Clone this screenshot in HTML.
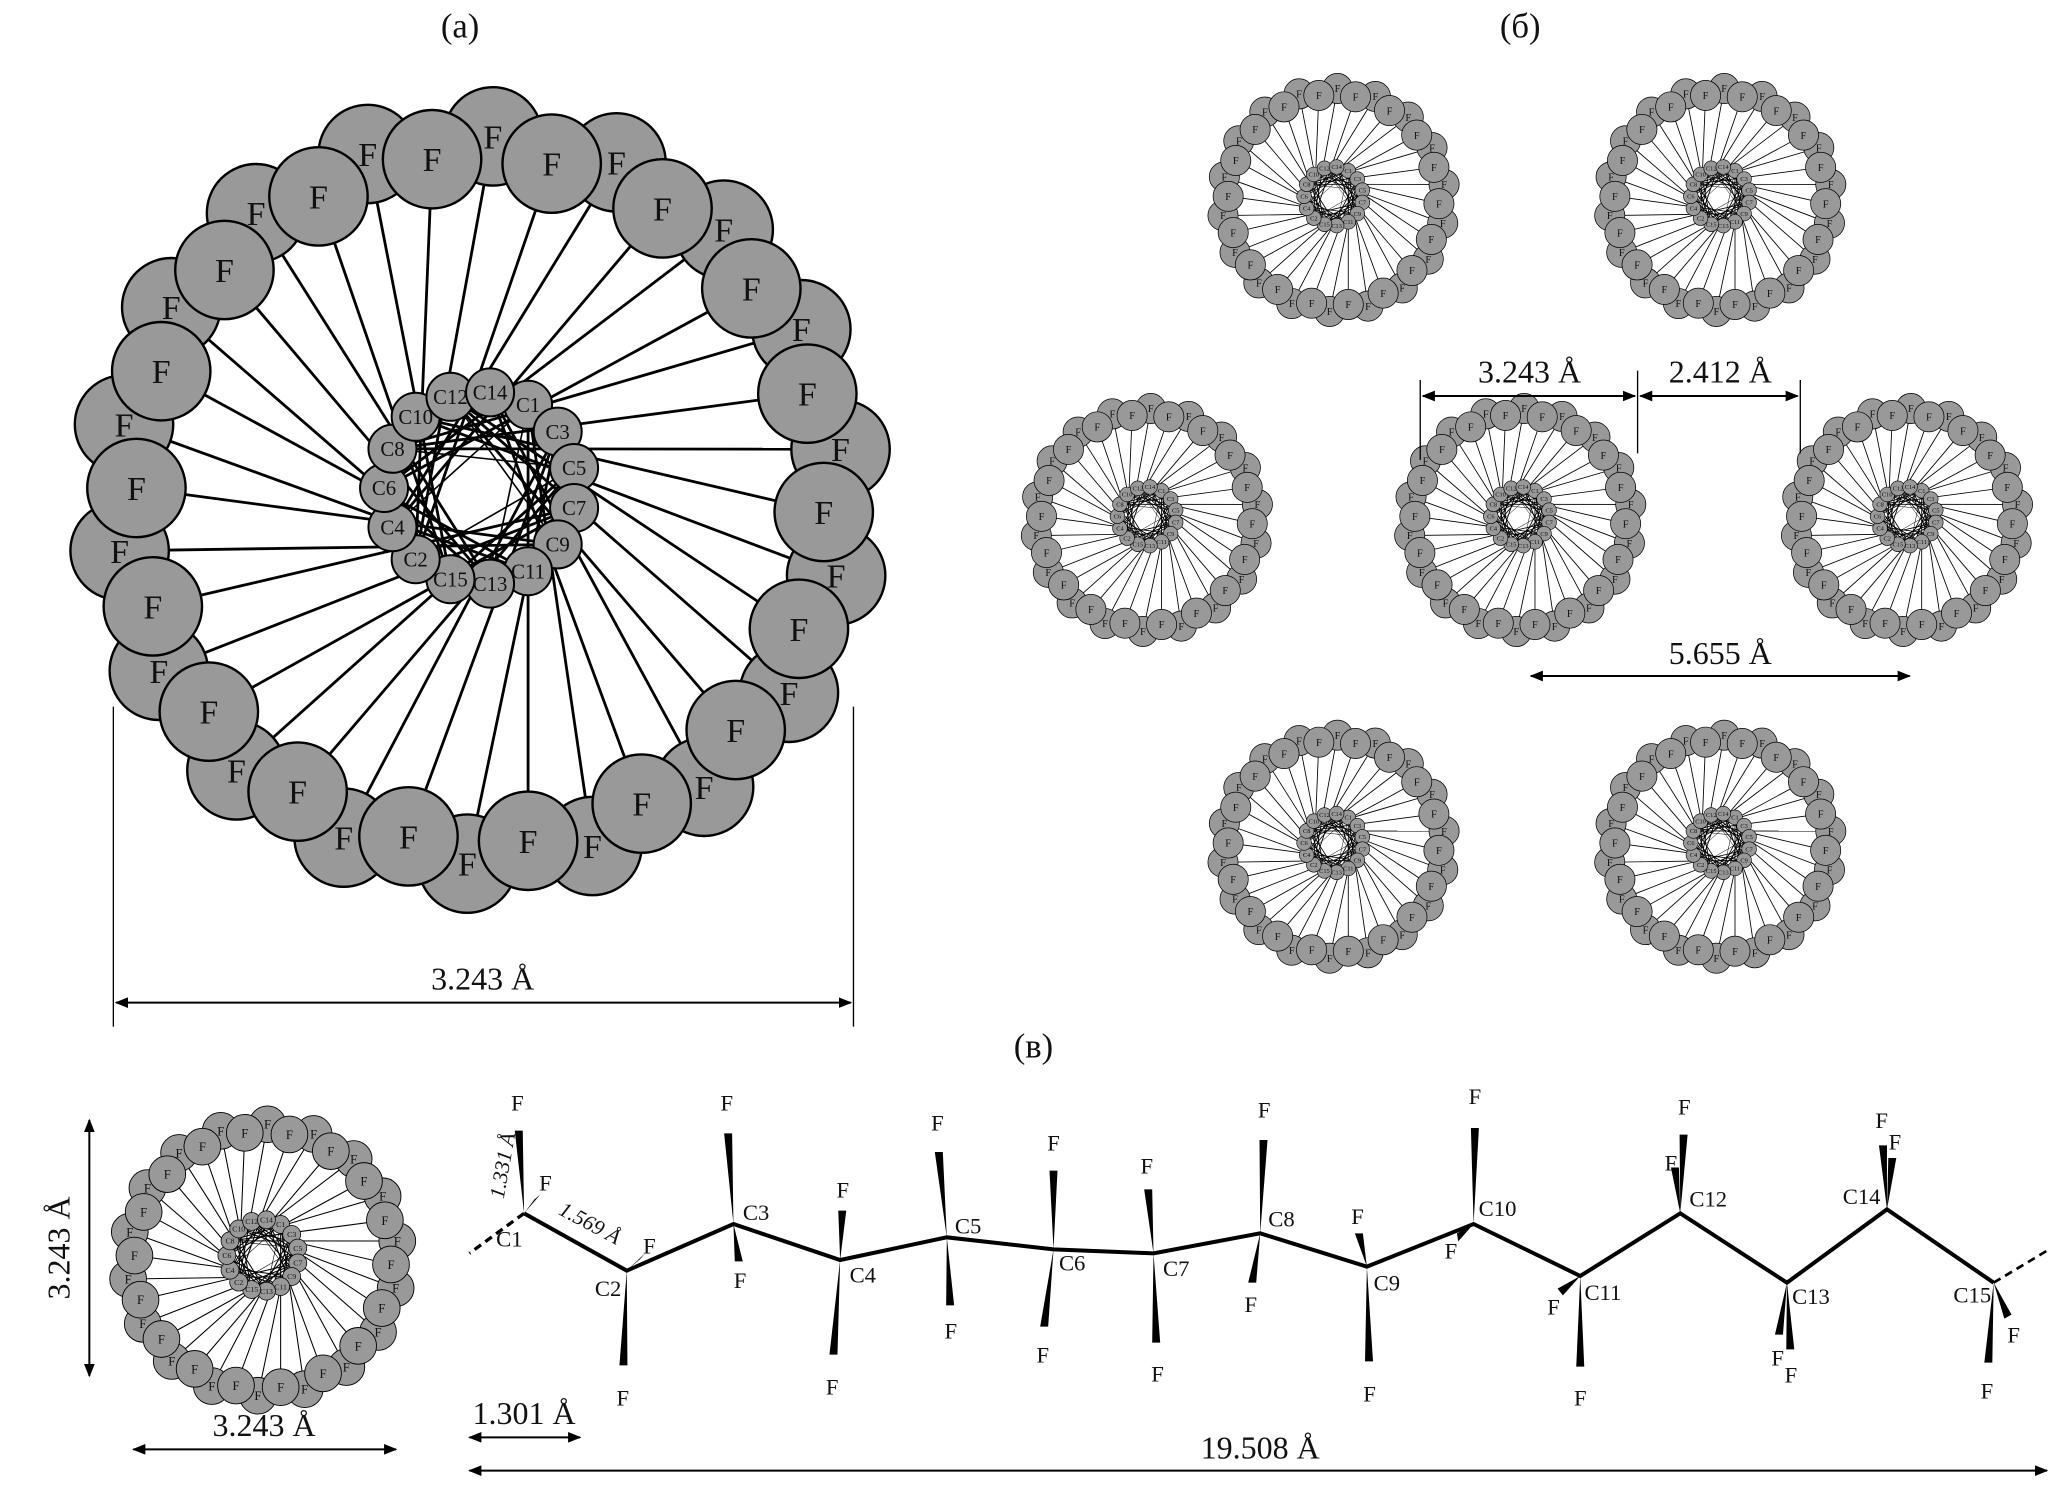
<!DOCTYPE html>
<html><head><meta charset="utf-8"><style>
html,body{margin:0;padding:0;background:#fff;}
svg{display:block;}
text{font-family:"Liberation Serif",serif;fill:#111;}
</style></head><body>
<svg width="2067" height="1492" viewBox="0 0 1550 1119" preserveAspectRatio="none" xmlns="http://www.w3.org/2000/svg">
<defs>
<marker id="ar" markerWidth="10" markerHeight="8" refX="9" refY="4" orient="auto" markerUnits="userSpaceOnUse"><path d="M0,0 L10,4 L0,8 z" fill="#000"/></marker>
<marker id="al" markerWidth="10" markerHeight="8" refX="1" refY="4" orient="auto" markerUnits="userSpaceOnUse"><path d="M10,0 L0,4 L10,8 z" fill="#000"/></marker>
<g id="w">
<g stroke="#000" stroke-width="0.7">
<line x1="-16.1" y1="14.8" x2="3.2" y2="-90.9"/>
<line x1="-16.1" y1="14.8" x2="17.9" y2="-84.1"/>
<line x1="-21.9" y1="6.8" x2="34.1" y2="-84.4"/>
<line x1="-21.9" y1="6.8" x2="45.6" y2="-72.9"/>
<line x1="-24" y1="-3" x2="60.9" y2="-67.6"/>
<line x1="-24" y1="-3" x2="67.8" y2="-52.9"/>
<line x1="-21.9" y1="-12.8" x2="80.3" y2="-42.7"/>
<line x1="-21.9" y1="-12.8" x2="81.8" y2="-26.6"/>
<line x1="-21.9" y1="-12.8" x2="90.1" y2="-12.7"/>
<line x1="-16.1" y1="-20.8" x2="85.9" y2="3.0"/>
<line x1="-16.1" y1="-20.8" x2="89.0" y2="18.9"/>
<line x1="-7.4" y1="-25.8" x2="79.7" y2="32.2"/>
<line x1="-7.4" y1="-25.8" x2="77.2" y2="48.2"/>
<line x1="-7.4" y1="-25.8" x2="63.9" y2="57.5"/>
<line x1="2.5" y1="-26.9" x2="56.0" y2="71.7"/>
<line x1="2.5" y1="-26.9" x2="40.4" y2="75.9"/>
<line x1="12" y1="-23.8" x2="28.1" y2="86.5"/>
<line x1="12" y1="-23.8" x2="12.0" y2="85.2"/>
<line x1="19.4" y1="-17.1" x2="-3.2" y2="90.9"/>
<line x1="19.4" y1="-17.1" x2="-17.9" y2="84.1"/>
<line x1="19.4" y1="-17.1" x2="-34.1" y2="84.4"/>
<line x1="23.5" y1="-8.0" x2="-45.6" y2="72.9"/>
<line x1="23.5" y1="-8.0" x2="-60.9" y2="67.6"/>
<line x1="23.5" y1="2.0" x2="-67.8" y2="52.9"/>
<line x1="23.5" y1="2.0" x2="-80.3" y2="42.7"/>
<line x1="23.5" y1="2.0" x2="-81.8" y2="26.6"/>
<line x1="19.4" y1="11.1" x2="-90.1" y2="12.7"/>
<line x1="19.4" y1="11.1" x2="-85.9" y2="-3.0"/>
<line x1="12" y1="17.8" x2="-89.0" y2="-18.9"/>
<line x1="12" y1="17.8" x2="-79.7" y2="-32.2"/>
<line x1="2.5" y1="20.9" x2="-77.2" y2="-48.2"/>
<line x1="2.5" y1="20.9" x2="-63.9" y2="-57.5"/>
<line x1="2.5" y1="20.9" x2="-56.0" y2="-71.7"/>
<line x1="-7.4" y1="19.8" x2="-40.4" y2="-75.9"/>
<line x1="-7.4" y1="19.8" x2="-28.1" y2="-86.5"/>
<line x1="-16.1" y1="14.8" x2="-12.0" y2="-85.2"/>
<line x1="12" y1="-23.8" x2="-21.9" y2="6.8" stroke-width="0.4"/>
<line x1="23.5" y1="-8.0" x2="-21.9" y2="-12.8" stroke-width="0.4"/>
<line x1="19.4" y1="11.1" x2="-7.4" y2="-25.8" stroke-width="0.4"/>
<line x1="2.5" y1="20.9" x2="12" y2="-23.8" stroke-width="0.4"/>
<line x1="-16.1" y1="14.8" x2="23.5" y2="-8.0" stroke-width="0.4"/>
</g>
<g fill="#999" stroke="#000" stroke-width="0.6">
<circle cx="3.2" cy="-90.9" r="12.3"/><circle cx="34.1" cy="-84.4" r="12.3"/><circle cx="60.9" cy="-67.6" r="12.3"/><circle cx="80.3" cy="-42.7" r="12.3"/><circle cx="90.1" cy="-12.7" r="12.3"/><circle cx="89.0" cy="18.9" r="12.3"/><circle cx="77.2" cy="48.2" r="12.3"/><circle cx="56.0" cy="71.7" r="12.3"/><circle cx="28.1" cy="86.5" r="12.3"/><circle cx="-3.2" cy="90.9" r="12.3"/><circle cx="-34.1" cy="84.4" r="12.3"/><circle cx="-60.9" cy="67.6" r="12.3"/><circle cx="-80.3" cy="42.7" r="12.3"/><circle cx="-90.1" cy="12.7" r="12.3"/><circle cx="-89.0" cy="-18.9" r="12.3"/><circle cx="-77.2" cy="-48.2" r="12.3"/><circle cx="-56.0" cy="-71.7" r="12.3"/><circle cx="-28.1" cy="-86.5" r="12.3"/>
<circle cx="17.9" cy="-84.1" r="12.3"/><circle cx="45.6" cy="-72.9" r="12.3"/><circle cx="67.8" cy="-52.9" r="12.3"/><circle cx="81.8" cy="-26.6" r="12.3"/><circle cx="85.9" cy="3.0" r="12.3"/><circle cx="79.7" cy="32.2" r="12.3"/><circle cx="63.9" cy="57.5" r="12.3"/><circle cx="40.4" cy="75.9" r="12.3"/><circle cx="12.0" cy="85.2" r="12.3"/><circle cx="-17.9" cy="84.1" r="12.3"/><circle cx="-45.6" cy="72.9" r="12.3"/><circle cx="-67.8" cy="52.9" r="12.3"/><circle cx="-81.8" cy="26.6" r="12.3"/><circle cx="-85.9" cy="-3.0" r="12.3"/><circle cx="-79.7" cy="-32.2" r="12.3"/><circle cx="-63.9" cy="-57.5" r="12.3"/><circle cx="-40.4" cy="-75.9" r="12.3"/><circle cx="-12.0" cy="-85.2" r="12.3"/>
</g>
<g font-size="8.5" text-anchor="middle">
<text x="3.2" y="-87.9">F</text><text x="34.1" y="-81.4">F</text><text x="60.9" y="-64.6">F</text><text x="80.3" y="-39.7">F</text><text x="90.1" y="-9.7">F</text><text x="89.0" y="21.9">F</text><text x="77.2" y="51.2">F</text><text x="56.0" y="74.7">F</text><text x="28.1" y="89.5">F</text><text x="-3.2" y="93.9">F</text><text x="-34.1" y="87.4">F</text><text x="-60.9" y="70.6">F</text><text x="-80.3" y="45.7">F</text><text x="-90.1" y="15.7">F</text><text x="-89.0" y="-15.9">F</text><text x="-77.2" y="-45.2">F</text><text x="-56.0" y="-68.7">F</text><text x="-28.1" y="-83.5">F</text>
<text x="17.9" y="-81.1">F</text><text x="45.6" y="-69.9">F</text><text x="67.8" y="-49.9">F</text><text x="81.8" y="-23.6">F</text><text x="85.9" y="6">F</text><text x="79.7" y="35.2">F</text><text x="63.9" y="60.5">F</text><text x="40.4" y="78.9">F</text><text x="12.0" y="88.2">F</text><text x="-17.9" y="87.1">F</text><text x="-45.6" y="75.9">F</text><text x="-67.8" y="55.9">F</text><text x="-81.8" y="29.6">F</text><text x="-85.9" y="0">F</text><text x="-79.7" y="-29.2">F</text><text x="-63.9" y="-54.5">F</text><text x="-40.4" y="-72.9">F</text><text x="-12.0" y="-82.2">F</text>
</g>
<g fill="#999" stroke="#000" stroke-width="0.5">
<circle cx="12" cy="-23.8" r="6"/><circle cx="19.4" cy="-17.1" r="6"/><circle cx="23.5" cy="-8.0" r="6"/><circle cx="23.5" cy="2.0" r="6"/><circle cx="19.4" cy="11.1" r="6"/><circle cx="12" cy="17.8" r="6"/><circle cx="2.5" cy="20.9" r="6"/><circle cx="-7.4" cy="19.8" r="6"/><circle cx="-16.1" cy="14.8" r="6"/><circle cx="-21.9" cy="6.8" r="6"/><circle cx="-24" cy="-3" r="6"/><circle cx="-21.9" cy="-12.8" r="6"/><circle cx="-16.1" cy="-20.8" r="6"/><circle cx="-7.4" cy="-25.8" r="6"/><circle cx="2.5" cy="-26.9" r="6"/>
</g>
<g font-size="5.2" text-anchor="middle">
<text x="12" y="-22">C1</text><text x="19.4" y="-15.3">C3</text><text x="23.5" y="-6.2">C5</text><text x="23.5" y="3.8">C7</text><text x="19.4" y="12.9">C9</text><text x="12" y="19.6">C11</text><text x="2.5" y="22.7">C13</text><text x="-7.4" y="21.6">C15</text><text x="-16.1" y="16.6">C2</text><text x="-21.9" y="8.6">C4</text><text x="-24" y="-1.2">C6</text><text x="-21.9" y="-11">C8</text><text x="-16.1" y="-19">C10</text><text x="-7.4" y="-24">C12</text><text x="2.5" y="-25.1">C14</text>
</g>
</g>
</defs>
<use href="#w" transform="translate(360,375) scale(3)"/>
<use href="#w" transform="translate(1000,150) scale(0.92)"/>
<use href="#w" transform="translate(1290,150) scale(0.92)"/>
<use href="#w" transform="translate(860,390) scale(0.92)"/>
<use href="#w" transform="translate(1140,390) scale(0.92)"/>
<use href="#w" transform="translate(1430,390) scale(0.92)"/>
<use href="#w" transform="translate(1000,635) scale(0.92)"/>
<use href="#w" transform="translate(1290,635) scale(0.92)"/>
<use href="#w" transform="translate(197,945) scale(1.12)"/>
<g font-size="26" text-anchor="middle">
<text x="345" y="28">(a)</text>
<text x="1140" y="28">(б)</text>
<text x="775" y="793">(в)</text>
</g>
<g stroke="#000" stroke-width="1">
<line x1="85" y1="530" x2="85" y2="770"/><line x1="640" y1="530" x2="640" y2="770"/>
<line x1="87" y1="752" x2="638" y2="752" stroke-width="1.5" marker-start="url(#al)" marker-end="url(#ar)"/>
<line x1="1065" y1="285" x2="1065" y2="345"/><line x1="1228" y1="278" x2="1228" y2="340"/><line x1="1350" y1="285" x2="1350" y2="340"/>
<line x1="1067" y1="297" x2="1226" y2="297" stroke-width="1.5" marker-start="url(#al)" marker-end="url(#ar)"/>
<line x1="1230" y1="297" x2="1348" y2="297" stroke-width="1.5" marker-start="url(#al)" marker-end="url(#ar)"/>
<line x1="1148" y1="507" x2="1432" y2="507" stroke-width="1.5" marker-start="url(#al)" marker-end="url(#ar)"/>
<line x1="67" y1="840" x2="67" y2="1032" stroke-width="1.5" marker-start="url(#al)" marker-end="url(#ar)"/>
<line x1="100" y1="1087" x2="297" y2="1087" stroke-width="1.5" marker-start="url(#al)" marker-end="url(#ar)"/>
<line x1="352" y1="1078" x2="435" y2="1078" stroke-width="1.5" marker-start="url(#al)" marker-end="url(#ar)"/>
<line x1="352" y1="1103" x2="1535" y2="1103" stroke-width="1.5" marker-start="url(#al)" marker-end="url(#ar)"/>
</g>
<g font-size="24" text-anchor="middle">
<text x="362" y="742">3.243 Å</text>
<text x="1147" y="287">3.243 Å</text>
<text x="1290" y="287">2.412 Å</text>
<text x="1290" y="498">5.655 Å</text>
<text x="198" y="1077">3.243 Å</text>
<text x="393" y="1068">1.301 Å</text>
<text x="945" y="1094">19.508 Å</text>
<text transform="translate(52,936) rotate(-90)">3.243 Å</text>
</g>
<g font-size="16" font-style="italic" text-anchor="middle">
<text transform="translate(382,875) rotate(-80)">1.331 Å</text>
<text transform="translate(440,922) rotate(28)">1.569 Å</text>
</g>
<polyline points="393,910 470,953 550,918 630,945 710,928 790,937 865,940 945,925 1025,950 1105,918 1185,957 1260,910 1340,962 1415,907 1495,962" fill="none" stroke="#000" stroke-width="3"/>
<line x1="393" y1="910" x2="352" y2="940" stroke="#000" stroke-width="2.5" stroke-dasharray="6,4"/>
<line x1="1495" y1="962" x2="1535" y2="938" stroke="#000" stroke-width="2" stroke-dasharray="6,4"/>
<g fill="#000">
<polygon points="393,910 386,848 392,848"/>
<polygon points="393,910 400.7,899.6 405.3,895.8"/>
<polygon points="470,953 480,944.3 484,939.7"/>
<polygon points="470,953 464.5,1024 470.5,1024"/>
<polygon points="550,918 543,850 549,850"/>
<polygon points="550,918 551,946 557,946"/>
<polygon points="630,945 628.6,908 634.6,908"/>
<polygon points="630,945 622,1016 628,1016"/>
<polygon points="710,928 701,864 707,864"/>
<polygon points="710,928 709.5,979 715.5,979"/>
<polygon points="790,937 787,878 793,878"/>
<polygon points="790,937 780,995 786,995"/>
<polygon points="865,940 858,892 864,892"/>
<polygon points="865,940 864,1007 870,1007"/>
<polygon points="945,925 944.5,855 950.5,855"/>
<polygon points="945,925 936,962 942,962"/>
<polygon points="1025,950 1016,925 1022,925"/>
<polygon points="1025,950 1023.6,1021 1029.6,1021"/>
<polygon points="1105,918 1103,846 1109,846"/>
<polygon points="1105,918 1092.5,925 1093.5,931"/>
<polygon points="1185,957 1168,966.5 1172,971.5"/>
<polygon points="1185,957 1182,1025 1188,1025"/>
<polygon points="1260,910 1259.5,851 1265.5,851"/>
<polygon points="1260,910 1253,875.6 1259,875.6"/>
<polygon points="1340,962 1331,1001 1337,1001"/>
<polygon points="1340,962 1339.5,1012 1345.5,1012"/>
<polygon points="1415,907 1409,859 1415,859"/>
<polygon points="1415,907 1416,868.5 1422,868.5"/>
<polygon points="1495,962 1503,989 1508.4,986"/>
<polygon points="1495,962 1488,1022 1494,1022"/>
</g>
<g font-size="17" text-anchor="middle">
<text x="388" y="833">F</text><text x="409" y="893">F</text>
<text x="487" y="940">F</text><text x="467" y="1054">F</text>
<text x="545" y="833">F</text><text x="555" y="966">F</text>
<text x="632" y="898">F</text><text x="624" y="1046">F</text>
<text x="703" y="848">F</text><text x="713" y="1004">F</text>
<text x="790" y="863">F</text><text x="782" y="1022">F</text>
<text x="860" y="880">F</text><text x="868" y="1036">F</text>
<text x="948" y="838">F</text><text x="938" y="984">F</text>
<text x="1018" y="918">F</text><text x="1027" y="1051">F</text>
<text x="1106" y="828">F</text><text x="1088" y="944">F</text>
<text x="1165" y="986">F</text><text x="1185" y="1054">F</text>
<text x="1263" y="836">F</text><text x="1253" y="878">F</text>
<text x="1333" y="1024">F</text><text x="1343" y="1037">F</text>
<text x="1411" y="846">F</text><text x="1421" y="862">F</text>
<text x="1510" y="1007">F</text><text x="1490" y="1049">F</text>
<text x="382" y="935">C1</text><text x="456" y="972">C2</text><text x="567" y="915">C3</text><text x="647" y="962">C4</text><text x="726" y="925">C5</text><text x="804" y="953">C6</text><text x="882" y="957">C7</text><text x="961" y="920">C8</text><text x="1040" y="968">C9</text><text x="1123" y="912">C10</text><text x="1202" y="975">C11</text><text x="1281" y="905">C12</text><text x="1358" y="978">C13</text><text x="1396" y="903">C14</text><text x="1479" y="977">C15</text>
</g>
</svg>
</body></html>
